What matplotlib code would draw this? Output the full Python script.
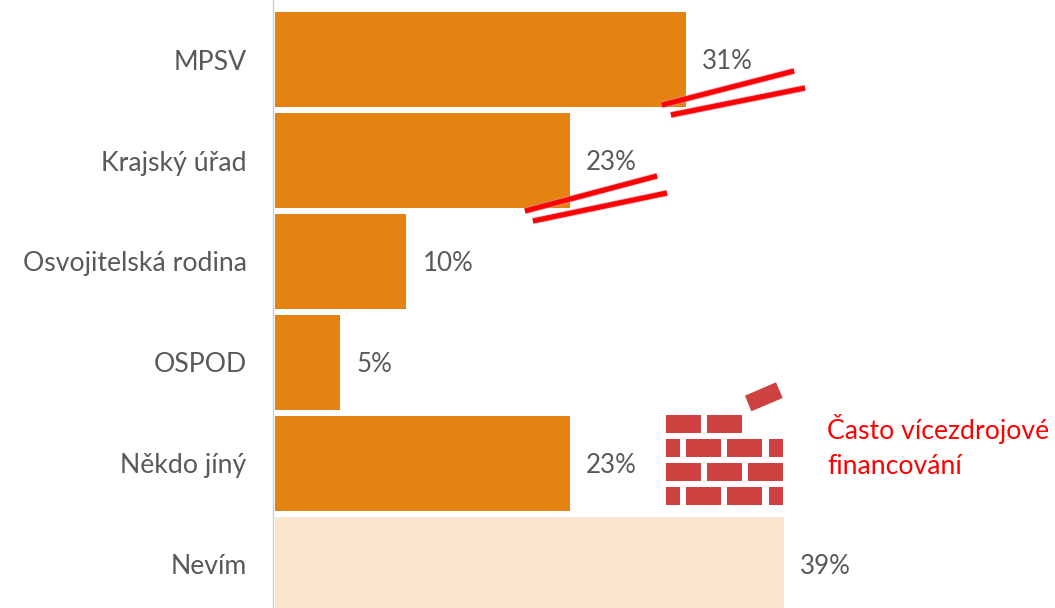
import matplotlib
matplotlib.use("Agg")
import matplotlib.pyplot as plt
from matplotlib.patches import Polygon, Rectangle

plt.rcParams['font.family'] = ['Lato', 'DejaVu Sans']

categories = ["MPSV", "Krajský úřad", "Osvojitelská rodina", "OSPOD", "Někdo jíný", "Nevím"]
values = [31.5, 22.6, 10.1, 5.05, 22.6, 39.0]
labels = ["31%", "23%", "10%", "5%", "23%", "39%"]
bar_colors = ["#E48312"] * 5 + ["#FAE6CF"]
note_lines = ["Často vícezdrojové", "financování"]

W, H = 1055, 608
TEXT = "#595959"
RED = "#FF0000"
BRICK = "#CE4141"
FS = 18.6

fig = plt.figure(figsize=(W / 100, H / 100), dpi=100, facecolor="white")
ax = fig.add_axes([274.5 / W, 0, (W - 274.5) / W, 1])
ax.spines["left"].set_position(("outward", 1))
ax.barh(range(len(values)), values, height=95 / 101, color=bar_colors, linewidth=0)
ax.set_xlim(0, (W - 274.5) / 13.06)
ax.set_ylim((H - 59.5) / 101, -59.5 / 101)
ax.set_yticks(range(len(categories)))
ax.set_yticklabels(categories, fontsize=19.2, color=TEXT)
ax.tick_params(axis="y", length=0, pad=19)
ax.set_xticks([])
for s in ["top", "right", "bottom"]:
    ax.spines[s].set_visible(False)
ax.spines["left"].set_color("#D0D0D0")
ax.spines["left"].set_linewidth(1.0)

for i, (v, l) in enumerate(zip(values, labels)):
    ax.annotate(l, (v, i), xytext=(11.5, -1.5), textcoords="offset points",
                va="center", ha="left", fontsize=FS, color=TEXT)

# pixel overlay for the hand-drawn decorations
ov = fig.add_axes([0, 0, 1, 1], facecolor="none")
ov.set_xlim(0, W)
ov.set_ylim(H, 0)
ov.axis("off")

strokes = [((662, 105), (794, 71)), ((671, 115), (805, 88)),
           ((525, 211), (657, 176)), ((533, 221), (667, 193))]
for a, b in strokes:
    xs, ys = zip(a, b)
    ov.plot(xs, ys, color="#F4A0B0", lw=5.0, solid_capstyle="butt", alpha=0.55)
    ov.plot(xs, ys, color="#E8202C", lw=3.9, solid_capstyle="butt")
    ov.plot(xs, ys, color=RED, lw=2.8, solid_capstyle="butt")

bricks = [(415, [(666, 701), (707, 742)]),
          (439, [(666, 680), (686, 721), (727, 762), (769, 783)]),
          (463, [(666, 701), (707, 742), (748, 783)]),
          (487, [(666, 680), (686, 721), (727, 762), (769, 783)])]
for y, row in bricks:
    for x0, x1 in row:
        ov.add_patch(Rectangle((x0, y), x1 - x0, 18, color=BRICK, lw=0))
ov.add_patch(Polygon([(745, 395.7), (776, 382.3), (782.7, 398), (751.3, 411.3)],
                     closed=True, color=BRICK, lw=0))

ov.text(827, 429, note_lines[0], color=RED, fontsize=19.2, va="center", ha="left")
ov.text(827, 466, note_lines[1], color=RED, fontsize=19.2, va="center", ha="left")

fig.savefig("out.png", dpi=100)
